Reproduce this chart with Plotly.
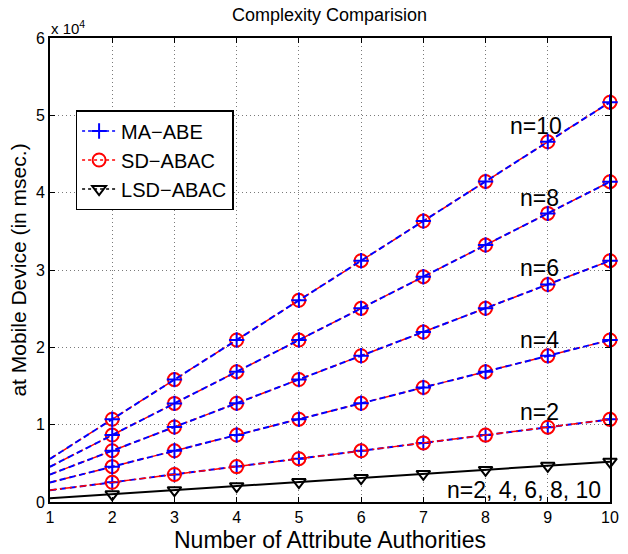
import plotly.graph_objects as go

# ---- data ----
authorities = [1, 2, 3, 4, 5, 6, 7, 8, 9, 10]
ma_n10 = [5580, 10700, 15830, 20950, 26080, 31200, 36330, 41450, 46580, 51700]
ma_n8 = [4560, 8660, 12750, 16850, 20940, 25040, 29130, 33230, 37320, 41420]
ma_n6 = [3560, 6630, 9700, 12770, 15840, 18910, 21980, 25050, 28120, 31200]
ma_n4 = [2520, 4570, 6620, 8660, 10710, 12760, 14810, 16850, 18900, 20950]
ma_n2 = [1530, 2550, 3560, 4580, 5600, 6620, 7640, 8650, 9670, 10690]
sd_n10 = ma_n10
sd_n8 = ma_n8
sd_n6 = ma_n6
sd_n4 = ma_n4
sd_n2 = ma_n2
lsd_all = [480, 1000, 1530, 2050, 2580, 3100, 3630, 4150, 4680, 5210]
y_ticks = [0, 10000, 20000, 30000, 40000, 50000, 60000]
y_tick_labels = ["0", "1", "2", "3", "4", "5", "6"]
n_labels = ["n=10", "n=8", "n=6", "n=4", "n=2"]

FONT = "Liberation Sans, Arial, Helvetica, sans-serif"
BLUE = "#0000FF"
RED = "#FF0000"

ma_style = dict(line=dict(color=BLUE, width=2, dash="6px,4px"))
ma_marker = dict(symbol="cross-thin", size=11, color=BLUE, line=dict(color=BLUE, width=2))
sd_style = dict(line=dict(color=RED, width=1.5, dash="7px,3px,2px,3px"))
sd_marker = dict(symbol="circle-open", size=13, color=RED, line=dict(color=RED, width=2))
lsd_style = dict(line=dict(color="black", width=2))
lsd_marker = dict(symbol="triangle-down-open", size=12, color="black", line=dict(color="black", width=2))

fig = go.Figure()

def add_series(ys, style, marker):
    fig.add_trace(go.Scatter(x=authorities, y=ys, mode="lines", showlegend=False,
                             hoverinfo="skip", **style))
    fig.add_trace(go.Scatter(x=authorities[1:], y=ys[1:], mode="markers", showlegend=False,
                             marker=marker, cliponaxis=False))

pairs = [(ma_n10, sd_n10), (ma_n8, sd_n8), (ma_n6, sd_n6), (ma_n4, sd_n4)]
for ma, sd in pairs:
    add_series(sd, sd_style, sd_marker)
    add_series(ma, ma_style, ma_marker)
# n=2: red on top of blue
add_series(ma_n2, ma_style, ma_marker)
add_series(sd_n2, sd_style, sd_marker)
add_series(lsd_all, lsd_style, lsd_marker)

# legend-only traces
fig.add_trace(go.Scatter(x=[None], y=[None], mode="lines+markers", name="MA\u2212ABE",
                         marker=ma_marker, line=dict(color=BLUE, width=1.5, dash="dot")))
fig.add_trace(go.Scatter(x=[None], y=[None], mode="lines+markers", name="SD\u2212ABAC",
                         marker=sd_marker, line=dict(color=RED, width=1.5, dash="dot")))
fig.add_trace(go.Scatter(x=[None], y=[None], mode="lines+markers", name="LSD\u2212ABAC",
                         marker=lsd_marker, line=dict(color="black", width=1.5, dash="dot")))

W, H = 628, 554
PL, PR, PT, PB = 50, 619, 38, 502          # plot area in page pixels
L, T, R, B = PL, PT, W - PR, H - PB
pw, ph = PR - PL, PB - PT

def px2paper(px, py):
    return (px - PL) / pw, (PB - py) / ph

annotations = []
label_px = [(544, 126), (547, 198), (547, 268), (547, 340), (547, 412)]
for txt, (px, py) in zip(n_labels, label_px):
    xp, yp = px2paper(px, py)
    annotations.append(dict(text=txt, x=xp, y=yp, xref="paper", yref="paper",
                            showarrow=False, font=dict(size=23, color="black", family=FONT),
                            xanchor="center", yanchor="middle"))
xp, yp = px2paper(532, 490)
annotations.append(dict(text="n=2, 4, 6, 8, 10", x=xp, y=yp, xref="paper", yref="paper",
                        showarrow=False, font=dict(size=23, color="black", family=FONT),
                        xanchor="center", yanchor="middle"))
xp, yp = px2paper(49, 28)
annotations.append(dict(text="x 10<sup>4</sup>", x=xp, y=yp, xref="paper", yref="paper",
                        showarrow=False, font=dict(size=15, color="black", family=FONT),
                        xanchor="left", yanchor="middle"))
xp, yp = px2paper(334, 15)
annotations.append(dict(text="Complexity Comparision", x=xp, y=yp, xref="paper", yref="paper",
                        showarrow=False, font=dict(size=18, color="black", family=FONT),
                        xanchor="center", yanchor="middle"))
xp, yp = px2paper(334, 540)
annotations.append(dict(text="Number of Attribute Authorities", x=xp, y=yp, xref="paper", yref="paper",
                        showarrow=False, font=dict(size=23, color="black", family=FONT),
                        xanchor="center", yanchor="middle"))

lx, ly = px2paper(76, 110)
fig.update_layout(
    width=W, height=H,
    margin=dict(l=L, r=R, t=T, b=B),
    paper_bgcolor="white", plot_bgcolor="white",
    font=dict(family=FONT, color="black"),
    annotations=annotations,
    legend=dict(x=lx, y=ly, xanchor="left", yanchor="top",
                bgcolor="white", bordercolor="black", borderwidth=1.5,
                font=dict(size=20, family=FONT, color="black"),
                itemwidth=34, tracegroupgap=0),
    showlegend=True,
)
axis_common = dict(showline=True, linecolor="black", linewidth=2, mirror="ticks",
                   ticks="inside", ticklen=5, tickcolor="black", tickwidth=1,
                   showgrid=True, gridcolor="#7a7a7a", griddash="1px,3px", gridwidth=1,
                   zeroline=False, tickfont=dict(size=16, family=FONT, color="black"))
fig.update_xaxes(range=[1, 10], tickvals=authorities, **axis_common)
fig.update_yaxes(range=[0, 60000], tickvals=y_ticks, ticktext=y_tick_labels,
                 title=dict(text="at Mobile Device (in msec.)", standoff=4,
                            font=dict(size=21, family=FONT, color="black")),
                 automargin=False, **axis_common)

fig.write_html("out.html", config={"displayModeBar": False},
               post_script="document.body.style.margin='0px';document.body.style.padding='0px';")
